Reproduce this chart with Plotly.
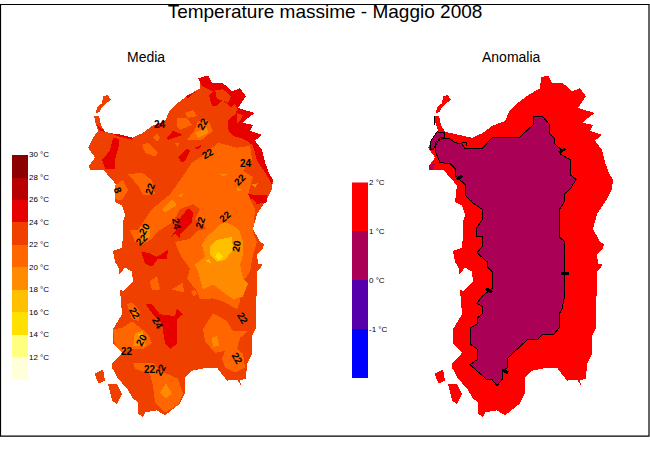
import plotly.graph_objects as go

FONT = "Liberation Sans"

island = [(198,75),(208,72),(212,80),(223,80),(232,88),(240,85),(246,93),(238,105),(255,110),(245,117),(243,120),
          (253,122),(250,128),(262,132),(255,138),(262,147),(265,160),(270,173),(273,177),(272,187),(267,197),
          (257,212),(253,227),(260,240),(264,242),(263,247),(257,253),(258,262),(263,263),(257,270),(257,287),
          (256,303),(256,327),(252,335),(252,353),(247,363),(246,378),(240,380),(241,385),(237,379),(227,380),
          (217,367),(207,367),(192,370),(185,377),(185,393),(180,403),(165,415),(157,410),(145,412),(143,417),
          (138,413),(138,402),(133,398),(127,388),(118,378),(112,367),(112,363),(117,358),(122,352),(113,343),
          (113,328),(122,313),(120,288),(123,290),(133,280),(132,270),(125,266),(119,273),(119,267),(115,260),
          (113,249),(122,246),(123,233),(123,220),(125,213),(122,203),(115,200),(117,183),(108,173),(103,167),
          (90,168),(89,163),(95,155),(90,148),(88,145),(93,135),(98,128),(96,122),(94,113),(99,113),(101,122),
          (105,129),(120,132),(132,135),(143,130),(152,123),(165,118),(170,107),(180,98),(188,92),(200,85),(201,75)]
asinara = [(103,93),(108,92),(111,97),(106,100),(101,105),(100,109),(96,110),(97,104),(102,100)]
san_pietro = [(95,373),(103,369),(105,380),(99,383),(96,377)]
sant_antioco = [(108,383),(117,383),(122,393),(117,404),(112,400)]
land = [island, asinara, san_pietro, sant_antioco]

# media: patches per temperature band
band_24_26 = [
    [(198,75),(208,72),(212,80),(223,80),(232,88),(240,85),(246,93),(238,105),(255,110),(245,117),(243,120),(253,122),
     (250,128),(262,132),(255,138),(262,147),(265,160),(270,173),(273,177),(272,182),(265,170),(257,158),(253,143),
     (247,138),(240,135),(233,133),(228,127),(228,117),(237,110),(230,103),(222,97),(217,103),(212,103),(209,92),
     (213,88),(202,83)],
    [(97,122),(100,128),(112,131),(120,134),(132,137),(133,135),(122,132),(107,130),(98,123)],
    [(113,135),(119,136),(119,143),(115,157),(115,167),(105,166),(102,157),(110,148)],
    [(248,192),(267,193),(267,200),(257,202),(253,197),(248,197)],
    [(185,93),(195,89),(188,95)],
    [(155,123),(165,118),(163,123),(155,125)],
    [(167,135),(173,128),(183,132),(175,135),(168,137)],
    [(178,155),(187,146),(190,148),(185,158),(182,160)],
    [(195,145),(202,142),(198,147)],
    [(177,220),(188,206),(193,210),(192,220),(180,233),(180,237),(175,232),(170,236),(176,228)],
    [(141,250),(148,251),(157,255),(168,248),(167,257),(158,257),(152,265),(145,262)],
    [(146,303),(152,303),(160,313),(175,315),(177,307),(183,313),(177,318),(177,343),(170,348),(165,342),(162,323),(152,312)],
]
band_22_24_over = [
    [(215,87),(223,86),(231,93),(228,100),(222,97),(217,96)],
    [(230,105),(235,101),(238,107),(233,110)],
    [(237,110),(243,112),(240,118),(237,120)],
]
band_20_22 = [
    [(130,228),(138,228),(152,207),(170,192),(182,175),(192,160),(203,153),(218,140),(237,145),(250,143),(252,157),
     (243,168),(253,175),(248,192),(255,207),(253,230),(257,240),(253,253),(250,270),(243,280),(240,300),(237,308),
     (223,300),(213,297),(200,298),(197,290),(187,277),(190,267),(180,253),(175,240),(190,237),(199,228),(207,227),
     (195,217),(200,207),(193,202),(180,207),(173,220),(157,230),(152,237),(142,243),(135,240)],
    [(115,183),(123,177),(128,188),(122,198),(115,197)],
    [(128,172),(142,170),(152,178),(155,192),(143,193),(138,183)],
    [(185,110),(193,107),(197,113),(188,115)],
    [(177,115),(187,115),(192,122),(180,127),(177,123)],
    [(187,137),(195,127),(198,118),(208,117),(213,128),(202,137)],
    [(142,142),(148,140),(158,150),(155,154),(145,150)],
    [(153,135),(157,131),(160,135),(157,139)],
    [(175,140),(179,140),(178,145)],
    [(150,280),(157,274),(160,288),(152,289)],
    [(172,288),(183,281),(184,291)],
    [(191,291),(194,288),(197,292),(194,295)],
    [(203,328),(213,312),(227,320),(233,330),(247,330),(240,337),(237,348),(243,353),(245,367),(235,372),(225,367),
     (222,358),(225,350),(215,352),(205,340)],
    [(127,303),(132,301),(140,310),(139,320),(132,318)],
    [(113,328),(122,327),(132,320),(148,333),(152,342),(143,348),(130,348),(122,352),(115,345)],
    [(133,362),(153,362),(160,370),(178,378),(183,393),(178,405),(165,412),(155,402),(153,385),(150,373),(135,368)],
]
band_18_20 = [
    [(195,130),(207,125),(208,130),(198,135)],
    [(162,207),(172,197),(177,203),(165,210)],
    [(178,193),(183,191),(182,195)],
    [(220,172),(227,172),(223,174)],
    [(235,185),(242,187),(238,189)],
    [(252,182),(258,181),(255,185)],
    [(140,225),(150,224),(150,235),(140,240)],
    [(195,263),(205,255),(202,243),(208,233),(213,230),(223,220),(233,223),(240,230),(243,240),(243,253),(240,263),
     (243,277),(248,282),(243,295),(233,298),(213,283),(203,288),(198,270)],
    [(212,337),(217,335),(219,345),(213,346)],
    [(160,392),(166,383),(172,393),(166,398)],
    [(135,332),(143,330),(145,345),(133,345)],
    [(132,308),(137,313),(135,317)],
]
band_16_18 = [
    [(210,245),(217,238),(232,235),(233,248),(225,258),(217,260),(210,253)],
    [(206,259),(209,257),(211,262)],
    [(138,333),(143,333),(142,340)],
]
band_14_16 = [
    [(215,255),(218,250),(223,255),(219,259)],
]

# contour labels on the media map
label_x = [203,208,246,240,160,118,150,225,200,177,145,142,237,135,158,142,127,150,161,243,237]
label_y = [121,151,161,177,122,188,186,214,220,222,227,238,244,312,322,339,351,369,369,317,358]
label_text = ["22","22","24","22","24","8","22","22","22","24","20","22","20","22","24","20","22","22","22","22","22"]
label_angle = [-60,-30,0,-45,0,70,-70,-40,-70,80,-60,-45,-80,60,60,-60,0,0,-60,60,60]

# anomalia: area between 0 and 1 degree, with its contour
anomaly_main = [(193,114),(203,114),(209,121),(209,130),(214,135),(214,140),(220,146),(220,151),(230,157),(230,172),
                (236,177),(230,187),(224,192),(224,200),(219,208),(219,235),(224,239),(224,298),(222,308),(219,313),
                (219,327),(214,333),(203,333),(198,338),(188,338),(168,357),(167,367),(162,372),(162,379),(157,385),
                (152,379),(147,379),(130,364),(137,359),(137,348),(130,343),(130,327),(137,323),(137,317),(142,313),
                (142,305),(137,302),(142,295),(152,287),(152,270),(147,265),(147,260),(137,251),(142,245),(142,235),
                (136,234),(136,227),(142,218),(142,207),(132,200),(125,193),(125,182),(115,173),(115,166),(110,161),
                (100,160),(95,148),(95,140),(102,136),(110,136),(115,140),(122,141),(125,146),(142,146),(147,140),
                (152,135),(179,135),(193,122),(193,114)]
anomaly_nw = [(91,138),(97,129),(104,130),(104,135),(100,135),(93,147),(90,147),(91,138)]
anomaly_islet = [(89,163),(95,161),(93,167),(89,167)]
anomaly_ticks = [[(219,150),(225,146)],[(117,177),(122,173)],[(221,272),(229,272)],[(146,287),(152,291)],[(162,369),(168,372)]]
anomaly_extra_lines = [[(94,113),(94,122)],[(122,140),(126,140),(126,143)]]

# colour bars
temp_levels = [10,12,14,16,18,20,22,24,26,28,30]
temp_colors = ["#FFFFD9","#FFFF80","#FFE000","#FFC000","#FF8C00","#FF6600","#F04000","#E60000","#B80000","#8B0000"]
temp_ticks = [12,14,16,18,20,22,24,26,28,30]
anom_levels = [-2,-1,0,1,2]
anom_colors = ["#0000FF","#5500AA","#AA0055","#FF0000"]
anom_ticks = [-1,0,1,2]

fig = go.Figure()


def add_fill(points, color, xa="x", ya="y"):
    fig.add_trace(go.Scatter(x=[p[0] for p in points], y=[p[1] for p in points], xaxis=xa, yaxis=ya,
                             mode="lines", fill="toself", fillcolor=color, line=dict(width=0),
                             hoverinfo="skip", showlegend=False))


def add_line(points, width, xa="x2", ya="y"):
    fig.add_trace(go.Scatter(x=[p[0] for p in points], y=[p[1] for p in points], xaxis=xa, yaxis=ya,
                             mode="lines", line=dict(color="black", width=width),
                             hoverinfo="skip", showlegend=False))


for shape in land:
    add_fill(shape, "#F04000")
for patch in band_24_26:
    add_fill(patch, "#E60000")
for patch in band_22_24_over:
    add_fill(patch, "#F04000")
for patch in band_20_22:
    add_fill(patch, "#FF6600")
for patch in band_18_20:
    add_fill(patch, "#FF8C00")
for patch in band_16_18:
    add_fill(patch, "#FFC000")
for patch in band_14_16:
    add_fill(patch, "#FFE000")

for shape in land:
    add_fill(shape, "#FF0000", xa="x2")
add_fill(anomaly_main, "#AA0055", xa="x2")
add_fill(anomaly_nw, "#AA0055", xa="x2")
add_fill(anomaly_islet, "#AA0055", xa="x2")
add_line(anomaly_main, 1)
add_line(anomaly_nw, 1)
for seg in anomaly_extra_lines:
    add_line(seg, 1)
for seg in anomaly_ticks:
    add_line(seg, 3)

for i in range(len(temp_colors)):
    fig.add_trace(go.Bar(x=[0.5], y=[temp_levels[i + 1] - temp_levels[i]], base=[temp_levels[i]], width=1,
                         marker=dict(color=temp_colors[i], line=dict(width=0)), xaxis="x3", yaxis="y3",
                         hoverinfo="skip", showlegend=False))
for i in range(len(anom_colors)):
    fig.add_trace(go.Bar(x=[0.5], y=[anom_levels[i + 1] - anom_levels[i]], base=[anom_levels[i]], width=1,
                         marker=dict(color=anom_colors[i], line=dict(width=0)), xaxis="x4", yaxis="y4",
                         hoverinfo="skip", showlegend=False))

for x, y, text, angle in zip(label_x, label_y, label_text, label_angle):
    fig.add_annotation(x=x, y=y, xref="x", yref="y", text="<b>%s</b>" % text, textangle=angle, showarrow=False,
                       font=dict(family=FONT, size=10, color="black"))

fig.add_annotation(x=146 / 650, y=1 - 53 / 450, xref="paper", yref="paper", text="Media", showarrow=False,
                   xanchor="center", yanchor="middle", font=dict(family=FONT, size=14, color="black"))
fig.add_annotation(x=511 / 650, y=1 - 53 / 450, xref="paper", yref="paper", text="Anomalia", showarrow=False,
                   xanchor="center", yanchor="middle", font=dict(family=FONT, size=14, color="black"))

fig.add_shape(type="rect", xref="paper", yref="paper", x0=0.5 / 650, x1=649 / 650, y0=1 - 436 / 450, y1=1 - 0.5 / 450,
              line=dict(color="black", width=1.2), layer="below")

hidden = dict(visible=False, fixedrange=True)
bar_tick_font = dict(family=FONT, size=8, color="black")

fig.update_layout(
    width=650, height=450, autosize=False,
    margin=dict(l=0, r=0, t=0, b=0),
    paper_bgcolor="white", plot_bgcolor="rgba(0,0,0,0)",
    barmode="overlay", bargap=0, showlegend=False,
    title=dict(text="Temperature massime - Maggio 2008", x=0.5, xanchor="center", y=1 - 11 / 450, yanchor="middle",
               font=dict(family=FONT, size=19, color="black")),
    xaxis=dict(domain=[0, 0.5], range=[0, 325], **hidden),
    xaxis2=dict(domain=[0.5, 1], range=[-15, 310], anchor="y", **hidden),
    yaxis=dict(domain=[0, 1], range=[450, 0], **hidden),
    xaxis3=dict(domain=[12 / 650, 28 / 650], range=[0, 1], anchor="y3", **hidden),
    yaxis3=dict(domain=[1 - 379 / 450, 1 - 152 / 450], range=[10, 30], anchor="x3", side="right",
                tickvals=temp_ticks, ticktext=["%d °C" % t for t in temp_ticks], ticks="", showgrid=False,
                zeroline=False, showline=False, tickfont=bar_tick_font, fixedrange=True),
    xaxis4=dict(domain=[352 / 650, 368 / 650], range=[0, 1], anchor="y4", **hidden),
    yaxis4=dict(domain=[1 - 378 / 450, 1 - 180 / 450], range=[-2, 2], anchor="x4", side="right",
                tickvals=anom_ticks, ticktext=["%d °C" % t for t in anom_ticks], ticks="", showgrid=False,
                zeroline=False, showline=False, tickfont=bar_tick_font, fixedrange=True),
)

# the original is a non antialiased raster, keep the map edges hard
fig.write_html("out.html", config=dict(displayModeBar=False),
               post_script="document.body.style.margin='0';"
                           "document.querySelectorAll('.scatterlayer path').forEach(function(p){p.style.shapeRendering='crispEdges';});")
